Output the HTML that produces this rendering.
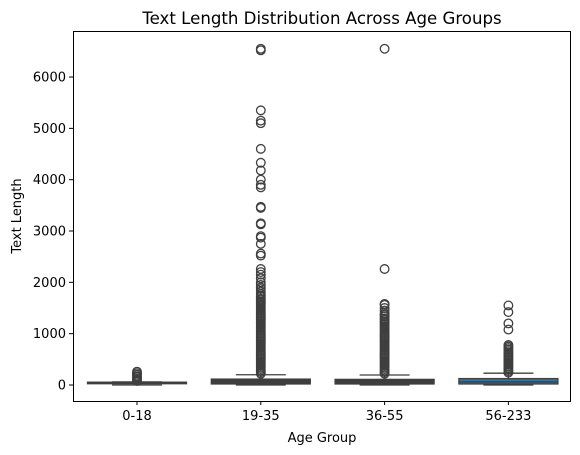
<!DOCTYPE html>
<html><head><meta charset="utf-8"><style>
body{margin:0;background:#fff}
svg{display:block;font-family:"DejaVu Sans","Liberation Sans",sans-serif}
</style></head><body>
<svg id="chart" width="580" height="455">
<rect width="580" height="455" fill="#fff"/>
<text x="322" y="24" text-anchor="middle" font-size="16.6" fill="#000">Text Length Distribution Across Age Groups</text>
<g id="plot"></g>
<rect x="73.5" y="31.5" width="497" height="370" fill="none" stroke="#000" stroke-width="1"/>
<text x="322" y="442" text-anchor="middle" font-size="13">Age Group</text>
<text transform="translate(21,216) rotate(-90)" text-anchor="middle" font-size="13">Text Length</text>
</svg>
<script>
const categories=["0-18","19-35","36-55","56-233"];
const q1=[25,20,20,20];
const medians=[35,50,50,60];
const q3=[55,115,110,125];
const whiskLo=[0,0,0,0];
const whiskHi=[60,200,195,230];
const outliers0=[80,100,120,150,170,200,230,260];
const outliers1=[6550,6520,5350,5150,5100,4600,4330,4180,4000,3900,3850,3470,3450,3150,3130,2900,2870,2750,2560,2520,2260,2200,2150,2080,2000,1950,1900,1870,1820,1780,1750,1720,1680,1650,1620,1600,1570,1540,1510,1480,1450,1420,1390,1360,1330,1300,1270,1240,1210,1180,1150,1120,1090,1060,1030,1000,970,940,910,880,850,820,790,760,730,700,670,640,610,580,550,520,490,460,430,400,370,340,310,280,250,220];
const outliers2=[6550,2260,1580,1560,1500,1450,1400,1370,1340,1300,1270,1240,1210,1180,1150,1120,1090,1060,1030,1000,970,940,910,880,850,820,790,760,730,700,670,640,610,580,550,520,490,460,430,400,370,340,310,280,250,220];
const outliers3=[1550,1420,1200,1080,780,750,720,690,660,630,600,570,540,510,480,450,420,390,360,330,300,270,240];
const yTicks=[0,1000,2000,3000,4000,5000,6000];
const outlierSets=[outliers0,outliers1,outliers2,outliers3];
const fills=["#3d3d3d","#3d3d3d","#3d3d3d","#3274a1"];

const NS="http://www.w3.org/2000/svg";
const svg=document.getElementById('chart');
const g=document.getElementById('plot');
const y=v=>385-v*0.05133;
const x=i=>137+i*123.8;
function mk(t,a,p){const e=document.createElementNS(NS,t);for(const k in a)e.setAttribute(k,a[k]);(p||g).appendChild(e);return e;}

yTicks.forEach(t=>{
  const l=mk('line',{x1:69,x2:73,y1:y(t),y2:y(t),stroke:'#000'},svg);
  
  
  const tx=mk('text',{x:66,y:y(t)+4.5,'text-anchor':'end','font-size':13},svg);
  tx.textContent=t;
  
  
});
categories.forEach((c,i)=>{
  const cx=x(i),bw=99,cw=50;
  const gr=mk('g',{});
  
  
  mk('line',{x1:cx,x2:cx,y1:y(q1[i]),y2:y(whiskLo[i]),stroke:'#3f3f3f','stroke-width':1.3},gr);
  mk('line',{x1:cx,x2:cx,y1:y(q3[i]),y2:y(whiskHi[i]),stroke:'#3f3f3f','stroke-width':1.3},gr);
  mk('line',{x1:cx-cw/2,x2:cx+cw/2,y1:y(whiskLo[i]),y2:y(whiskLo[i]),stroke:'#3f3f3f','stroke-width':1.3},gr);
  mk('line',{x1:cx-cw/2,x2:cx+cw/2,y1:y(whiskHi[i]),y2:y(whiskHi[i]),stroke:'#3f3f3f','stroke-width':1.3},gr);
  mk('rect',{x:cx-bw/2,y:y(q3[i]),width:bw,height:Math.max(1,y(q1[i])-y(q3[i])),fill:fills[i],stroke:'#3f3f3f','stroke-width':1.3},gr);
  mk('line',{x1:cx-bw/2,x2:cx+bw/2,y1:y(medians[i]),y2:y(medians[i]),stroke:'#3f3f3f','stroke-width':1.3},gr);
  outlierSets[i].forEach(v=>{
    const c2=mk('circle',{cx:cx,cy:y(v),r:4.3,fill:'none',stroke:'#3f3f3f','stroke-width':1.3},gr);
    
    
  });
  const t=mk('line',{x1:cx,x2:cx,y1:401,y2:405,stroke:'#000'},svg);
  
  
  const tx=mk('text',{x:cx,y:420,'text-anchor':'middle','font-size':13},svg);
  tx.textContent=c;
  
  
});
</script>
</body></html>
